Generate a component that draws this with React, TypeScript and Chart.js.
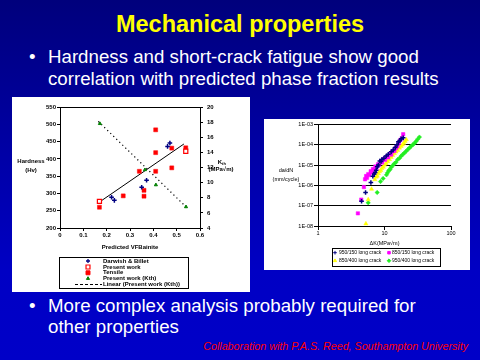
import React, { useEffect, useRef } from "react";
import { Chart, registerables } from "chart.js";

Chart.register(...registerables);

const FONT = "'Liberation Sans', Arial, sans-serif";

// ---------- Left chart: hardness and Kth vs predicted volume fraction ----------
const leftXTicks = [0, 0.1, 0.2, 0.3, 0.4, 0.5, 0.6];
const leftLegend = [
  "Darwish & Billet",
  "Present work",
  "Tensile",
  "Present work (Kth)",
  "Linear (Present work (Kth))",
];
const darwishX = [0.221, 0.233, 0.35, 0.371, 0.461, 0.471];
const darwishHv = [289, 280, 318, 338, 436, 446];
const presentX = [0.169, 0.539];
const presentHv = [277, 422];
const tensileX = [0.169, 0.271, 0.34, 0.36, 0.36, 0.41, 0.41, 0.41, 0.479, 0.479, 0.539];
const tensileHv = [260, 293, 364, 309, 292, 484, 418, 364, 431, 374, 432];
const kthX = [0.171, 0.364, 0.411, 0.54];
const kthVal = [17.8, 11.7, 9.7, 6.8];
const kthFitX = [0.164, 0.54];
const kthFitVal = [18.1, 6.8];
const hvFitX = [0.169, 0.531];
const hvFitVal = [275, 443];

// ---------- Right chart: da/dN vs delta K ----------
const rightLegend = [
  "950/150 long crack",
  "850/150 long crack",
  "850/400 long crack",
  "950/400 long crack",
];
const rateTicks = [1e-8, 1e-7, 1e-6, 1e-5, 1e-4, 1e-3];
const dkTicks = [1, 10, 100];

const navyDK = [4.52, 5.19, 6.24, 6.68, 7.0, 7.24, 7.5, 7.78, 8.1, 8.51, 8.9, 9.12, 9.8, 10.6, 11.4, 12.6, 13.5, 14.5, 15.4, 16.2, 17.0, 17.8, 19.1];
const navyRate = [1.65e-7, 4.5e-7, 1.4e-6, 2.8e-6, 3.6e-6, 4.3e-6, 5.5e-6, 8.3e-6, 1.0e-5, 1.6e-5, 1.5e-5, 1.9e-5, 2.2e-5, 2.8e-5, 3.4e-5, 4.5e-5, 5.6e-5, 7.3e-5, 1.0e-4, 1.4e-4, 1.6e-4, 2.0e-4, 2.2e-4];

const magentaDK = [3.98, 4.47, 4.9, 5.1, 5.3, 5.45, 5.7, 5.9, 6.2, 6.4, 6.7, 7.0, 7.3, 7.6, 8.0, 8.3, 8.8, 9.2, 9.7, 10.2, 10.8, 11.3, 12.0, 12.6, 13.3, 14.1, 14.8, 15.6, 16.4, 17.3, 18.2, 19.1];
const magentaRate = [4.2e-8, 2.0e-7, 8.3e-7, 2.0e-6, 2.9e-6, 2.4e-6, 3.6e-6, 3.2e-6, 5.0e-6, 4.3e-6, 6.4e-6, 5.8e-6, 8.5e-6, 7.5e-6, 1.1e-5, 1.0e-5, 1.5e-5, 1.35e-5, 2.0e-5, 1.8e-5, 2.6e-5, 2.4e-5, 3.5e-5, 3.3e-5, 4.8e-5, 5.0e-5, 7.0e-5, 8.5e-5, 1.2e-4, 1.7e-4, 2.1e-4, 3.3e-4];

const yellowDK = [5.25, 5.69, 6.38, 7.16, 7.5, 7.78, 8.1, 8.41, 8.8, 9.12, 9.6, 10.0, 10.6, 11.2, 11.9, 12.6, 13.3, 14.1, 14.9, 15.8, 16.8, 17.8, 18.6, 19.5, 20.4, 21.3];
const yellowRate = [1.3e-8, 2.0e-7, 6.6e-7, 1.95e-6, 2.6e-6, 2.9e-6, 3.8e-6, 4.8e-6, 5.5e-6, 6.9e-6, 8.0e-6, 1.0e-5, 1.2e-5, 1.5e-5, 1.9e-5, 2.4e-5, 3.0e-5, 3.7e-5, 4.5e-5, 5.4e-5, 7.0e-5, 8.5e-5, 1.0e-4, 1.2e-4, 1.5e-4, 1.8e-4];

const greenDK = [5.69, 7.76, 8.71, 9.53, 10.7, 11.1, 11.6, 12.1, 12.6, 13.3, 14.1, 14.9, 15.8, 16.8, 17.8, 18.8, 19.9, 21.1, 22.4, 23.7, 25.1, 26.6, 28.2, 29.9, 31.6, 33.5];
const greenRate = [1.4e-7, 4.5e-7, 1.55e-6, 2.2e-6, 3.3e-6, 4.2e-6, 5.4e-6, 6.0e-6, 7.8e-6, 9.5e-6, 1.2e-5, 1.4e-5, 1.9e-5, 2.2e-5, 2.8e-5, 3.3e-5, 4.0e-5, 4.8e-5, 5.9e-5, 7.0e-5, 8.5e-5, 1.0e-4, 1.2e-4, 1.5e-4, 1.9e-4, 2.4e-4];

const pts = (xs: number[], ys: number[]) => xs.map((x, i) => ({ x, y: ys[i] }));

function drawSym(ctx: CanvasRenderingContext2D, style: string, x: number, y: number, r: number, stroke: string, fill: string, lw: number) {
  ctx.save();
  ctx.strokeStyle = stroke;
  ctx.fillStyle = fill;
  ctx.lineWidth = lw;
  ctx.beginPath();
  if (style === "cross") {
    ctx.moveTo(x - r, y); ctx.lineTo(x + r, y);
    ctx.moveTo(x, y - r); ctx.lineTo(x, y + r);
    ctx.stroke();
  } else if (style === "rect") {
    const s = r * Math.SQRT1_2;
    ctx.rect(x - s, y - s, 2 * s, 2 * s);
    ctx.fill(); ctx.stroke();
  } else if (style === "triangle") {
    ctx.moveTo(x, y - r); ctx.lineTo(x + r * 0.87, y + r * 0.5); ctx.lineTo(x - r * 0.87, y + r * 0.5);
    ctx.closePath(); ctx.fill(); ctx.stroke();
  } else if (style === "rectRot") {
    ctx.moveTo(x, y - r); ctx.lineTo(x + r, y); ctx.lineTo(x, y + r); ctx.lineTo(x - r, y);
    ctx.closePath(); ctx.fill(); ctx.stroke();
  }
  ctx.restore();
}

const leftDecor = {
  id: "leftDecor",
  afterDraw(chart: any) {
    const { ctx, chartArea: a } = chart;
    ctx.save();
    ctx.strokeStyle = "#000";
    ctx.lineWidth = 1;
    ctx.beginPath();
    ctx.moveTo(a.left, Math.round(a.top) + 0.5);
    ctx.lineTo(a.right, Math.round(a.top) + 0.5);
    ctx.stroke();
    ctx.fillStyle = "#000";
    ctx.font = `bold 6px ${FONT}`;
    ctx.textAlign = "center";
    ctx.textBaseline = "middle";
    ctx.fillText("Hardness", a.left - 29, a.top + 54);
    ctx.fillText("(Hv)", a.left - 29, a.top + 63);
    ctx.fillText("K", a.right + 20, a.top + 55);
    ctx.font = `bold 4px ${FONT}`;
    ctx.fillText("th", a.right + 24, a.top + 57);
    ctx.font = `bold 6px ${FONT}`;
    ctx.fillText("(MPa\u221Am)", a.right + 21, a.top + 62);
    ctx.fillText("Predicted VFBainite", (a.left + a.right) / 2, a.bottom + 19);
    // legend box
    const bx = a.left - 1, by = a.bottom + 29, bw = 129, bh = 31;
    ctx.strokeRect(Math.round(bx) + 0.5, Math.round(by) + 0.5, bw, bh);
    const rows = [4, 10, 15.8, 21.5, 27];
    ctx.textAlign = "left";
    rows.forEach((dy, i) => {
      const y = by + dy;
      ctx.fillStyle = "#000";
      ctx.fillText(leftLegend[i], bx + 44, y);
      const sx = bx + 29;
      if (i === 0) drawSym(ctx, "cross", sx, y, 2, "#000080", "#000080", 1.3);
      if (i === 1) drawSym(ctx, "rect", sx, y, 2.8, "#FF0000", "#FFFFFF", 1.2);
      if (i === 2) drawSym(ctx, "rect", sx, y, 2.8, "#FF0000", "#FF0000", 1);
      if (i === 3) drawSym(ctx, "triangle", sx, y, 1.8, "#008000", "#008000", 1);
      if (i === 4) {
        ctx.save();
        ctx.strokeStyle = "#000";
        ctx.setLineDash([3, 2]);
        ctx.beginPath();
        ctx.moveTo(bx + 16, y + 0.5);
        ctx.lineTo(bx + 43, y + 0.5);
        ctx.stroke();
        ctx.restore();
      }
    });
    ctx.restore();
  },
};

const rightStyles = [
  { style: "cross", color: "#000080", r: 2.3 },
  { style: "rect", color: "#FF00FF", r: 2.4 },
  { style: "triangle", color: "#FFFF00", r: 2.4 },
  { style: "rectRot", color: "#22EE22", r: 2.2 },
];

const rightDecor = {
  id: "rightDecor",
  afterDraw(chart: any) {
    const { ctx, chartArea: a } = chart;
    ctx.save();
    ctx.fillStyle = "#000";
    ctx.font = `5.5px ${FONT}`;
    ctx.textAlign = "center";
    ctx.textBaseline = "middle";
    ctx.fillText("da/dN", a.left - 32, a.top + 46);
    ctx.fillText("(mm/cycle)", a.left - 32, a.top + 55);
    ctx.fillText("\u0394K(MPa\u221Am)", (a.left + a.right) / 2, a.bottom + 17);
    const bx = a.left + 14, by = a.bottom + 22, bw = 108, bh = 18;
    ctx.strokeStyle = "#000";
    ctx.lineWidth = 1;
    ctx.strokeRect(Math.round(bx) + 0.5, Math.round(by) + 0.5, bw, bh);
    ctx.font = `5px ${FONT}`;
    ctx.textAlign = "left";
    const cells = [
      [3, 7, 4.7], [57, 60, 4.7], [3, 7, 12.7], [57, 60, 12.7],
    ];
    cells.forEach((c, i) => {
      const s = rightStyles[i];
      const y = by + c[2];
      drawSym(ctx, s.style, bx + c[0], y, 1.8, s.color, s.color, 1);
      ctx.fillStyle = "#000";
      ctx.fillText(rightLegend[i], bx + c[1], y);
    });
    ctx.restore();
  },
};

export default function App() {
  const leftRef = useRef<HTMLCanvasElement>(null);
  const rightRef = useRef<HTMLCanvasElement>(null);

  useEffect(() => {
    const tickFont = { size: 6, family: FONT, weight: "bold" as const };
    const left = new Chart(leftRef.current!, {
      type: "scatter",
      data: {
        datasets: [
          { label: leftLegend[0], data: pts(darwishX, darwishHv), yAxisID: "y", pointStyle: "cross", pointRadius: 2.3, borderColor: "#000080", backgroundColor: "#000080", borderWidth: 1.5 },
          { label: leftLegend[1], data: pts(presentX, presentHv), yAxisID: "y", pointStyle: "rect", pointRadius: 2.9, borderColor: "#FF0000", backgroundColor: "#FFFFFF", borderWidth: 1.2 },
          { label: leftLegend[2], data: pts(tensileX, tensileHv), yAxisID: "y", pointStyle: "rect", pointRadius: 2.8, borderColor: "#FF0000", backgroundColor: "#FF0000", borderWidth: 0.5 },
          { label: leftLegend[3], data: pts(kthX, kthVal), yAxisID: "y2", pointStyle: "triangle", pointRadius: 1.8, borderColor: "#008000", backgroundColor: "#008000", borderWidth: 1 },
          { label: leftLegend[4], data: pts(kthFitX, kthFitVal), yAxisID: "y2", showLine: true, pointRadius: 0, borderColor: "#000", borderWidth: 1.2, borderDash: [1.2, 3] },
          { label: "Linear (Hardness)", data: pts(hvFitX, hvFitVal), yAxisID: "y", showLine: true, pointRadius: 0, borderColor: "#000", borderWidth: 1 },
        ],
      },
      options: {
        animation: false,
        responsive: false,
        devicePixelRatio: 1,
        layout: { padding: { top: 10, left: 0, right: 0, bottom: 0 } },
        plugins: { legend: { display: false }, tooltip: { enabled: false } },
        scales: {
          x: {
            type: "linear", min: 0, max: 0.6,
            afterBuildTicks: (s: any) => { s.ticks = leftXTicks.map((v) => ({ value: v })); },
            afterFit: (s: any) => { s.height = 64; },
            ticks: { font: tickFont, color: "#000", padding: 1, maxRotation: 0, autoSkip: false, callback: (v: any) => (v === 0 ? "0" : Number(v).toFixed(1)) },
            grid: { drawOnChartArea: false, color: "#000", tickLength: 3 },
            border: { color: "#000", width: 1 },
          },
          y: {
            type: "linear", position: "left", min: 200, max: 550,
            afterFit: (s: any) => { s.width = 48; },
            ticks: { stepSize: 50, font: tickFont, color: "#000", padding: 1 },
            grid: { drawOnChartArea: false, color: "#000", tickLength: 3 },
            border: { color: "#000", width: 1 },
          },
          y2: {
            type: "linear", position: "right", min: 4, max: 20,
            afterFit: (s: any) => { s.width = 50; },
            ticks: { stepSize: 2, font: tickFont, color: "#000", padding: 4 },
            grid: { drawOnChartArea: false, color: "#000", tickLength: 3 },
            border: { color: "#000", width: 1 },
          },
        },
      },
      plugins: [leftDecor],
    } as any);

    const rightSeries = [
      pts(navyDK, navyRate),
      pts(magentaDK, magentaRate),
      pts(yellowDK, yellowRate),
      pts(greenDK, greenRate),
    ];
    const rtFont = { size: 5.5, family: FONT };
    const right = new Chart(rightRef.current!, {
      type: "scatter",
      data: {
        datasets: rightSeries.map((d, i) => ({
          label: rightLegend[i],
          data: d,
          pointStyle: rightStyles[i].style,
          pointRadius: rightStyles[i].r,
          borderColor: rightStyles[i].color,
          backgroundColor: rightStyles[i].color,
          borderWidth: rightStyles[i].style === "cross" ? 1.5 : 0.5,
        })),
      },
      options: {
        animation: false,
        responsive: false,
        devicePixelRatio: 1,
        layout: { padding: { top: 4, left: 0, right: 19, bottom: 0 } },
        plugins: { legend: { display: false }, tooltip: { enabled: false } },
        scales: {
          x: {
            type: "logarithmic", min: 1, max: 100,
            afterBuildTicks: (s: any) => { s.ticks = dkTicks.map((v) => ({ value: v })); },
            afterFit: (s: any) => { s.height = 44; },
            ticks: { font: rtFont, color: "#000", padding: 0, maxRotation: 0, autoSkip: false, callback: (v: any) => String(v) },
            grid: { drawOnChartArea: false, color: "#000", tickLength: 4 },
            border: { color: "#000", width: 1 },
          },
          y: {
            type: "logarithmic", min: 1e-8, max: 1e-3,
            afterBuildTicks: (s: any) => { s.ticks = rateTicks.map((v) => ({ value: v })); },
            afterFit: (s: any) => { s.width = 54; },
            ticks: { font: rtFont, color: "#000", padding: 1, autoSkip: false, callback: (v: any) => "1E-0" + String(-Math.round(Math.log10(Number(v)))) },
            grid: { drawOnChartArea: true, color: "#000", lineWidth: 1, tickLength: 4 },
            border: { color: "#000", width: 1 },
          },
        },
      },
      plugins: [rightDecor],
    } as any);

    return () => {
      left.destroy();
      right.destroy();
    };
  }, []);

  const bulletLine = (top: number, text: string, bullet: boolean) => (
    <div style={{ position: "absolute", left: 0, top, height: 19, fontSize: 18.7, lineHeight: "19px", color: "#FFFFFF", whiteSpace: "nowrap" }}>
      {bullet && <span style={{ position: "absolute", left: 29 }}>{"\u2022"}</span>}
      <span style={{ position: "absolute", left: 48 }}>{text}</span>
    </div>
  );

  return (
    <div
      style={{
        position: "fixed", left: 0, top: 0, width: 480, height: 360, overflow: "hidden",
        background: "linear-gradient(to bottom, #00007C 0%, #0000A8 45%, #0000C4 75%, #0000C8 100%)",
        fontFamily: FONT,
      }}
    >
      <div style={{ position: "absolute", left: 0, width: 480, top: 13.4, textAlign: "center", color: "#FFFF00", fontWeight: "bold", fontSize: 23.5, lineHeight: "23.5px" }}>
        Mechanical properties
      </div>
      {bulletLine(46.8, "Hardness and short-crack fatigue show good", true)}
      {bulletLine(69.1, "correlation with predicted phase fraction results", false)}
      {bulletLine(296.1, "More complex analysis probably required for", true)}
      {bulletLine(317.1, "other properties", false)}
      <div style={{ position: "absolute", right: 12, top: 341.2, fontSize: 10.7, lineHeight: "10.7px", fontStyle: "italic", color: "#FF0000", whiteSpace: "nowrap" }}>
        Collaboration with P.A.S. Reed, Southampton University
      </div>
      <div style={{ position: "absolute", left: 12, top: 97, width: 238, height: 195, background: "#FFFFFF" }}>
        <canvas ref={leftRef} width={238} height={195} style={{ display: "block" }} />
      </div>
      <div style={{ position: "absolute", left: 264, top: 119, width: 206, height: 151, background: "#FFFFFF" }}>
        <canvas ref={rightRef} width={206} height={151} style={{ display: "block" }} />
      </div>
    </div>
  );
}
